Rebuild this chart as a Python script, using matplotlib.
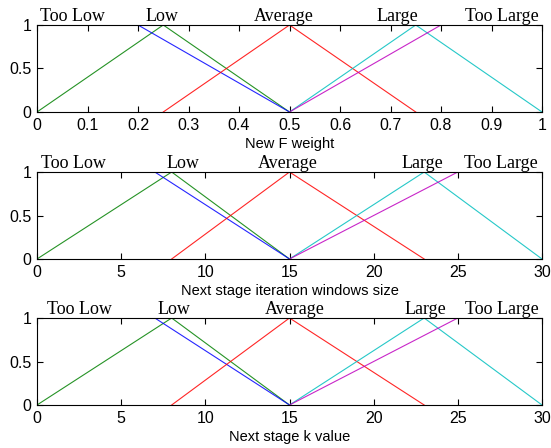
import matplotlib
matplotlib.use("Agg")
import matplotlib.pyplot as plt

# membership functions: (x points, y points) per term
labels = ["Too Low", "Low", "Average", "Large", "Too Large"]
xlabels = ["New F weight", "Next stage iteration windows size", "Next stage k value"]
xlims = [(0, 1), (0, 30), (0, 30)]
xticks = [[0, 0.1, 0.2, 0.3, 0.4, 0.5, 0.6, 0.7, 0.8, 0.9, 1],
          [0, 5, 10, 15, 20, 25, 30],
          [0, 5, 10, 15, 20, 25, 30]]

f_green = ([0, 0.25, 0.5], [0, 1, 0])
f_blue = ([0.2, 0.5], [1, 0])
f_red = ([0.25, 0.5, 0.75], [0, 1, 0])
f_cyan = ([0.5, 0.75, 1], [0, 1, 0])
f_magenta = ([0.5, 0.8], [0, 1])

w_green = ([0, 8, 15], [0, 1, 0])
w_blue = ([7, 15], [1, 0])
w_red = ([8, 15, 23], [0, 1, 0])
w_cyan = ([15, 23, 30], [0, 1, 0])
w_magenta = ([15, 25], [0, 1])

k_green = ([0, 8, 15], [0, 1, 0])
k_blue = ([7, 15], [1, 0])
k_red = ([8, 15, 23], [0, 1, 0])
k_cyan = ([15, 23, 30], [0, 1, 0])
k_magenta = ([15, 25], [0, 1])

panels = [
    [f_green, f_blue, f_red, f_cyan, f_magenta],
    [w_green, w_blue, w_red, w_cyan, w_magenta],
    [k_green, k_blue, k_red, k_cyan, k_magenta],
]
colors = ["#008000", "#0000ff", "#ff0000", "#00bfbf", "#bf00bf"]

# label centres in axes fraction, per panel
label_pos = [
    [0.07, 0.248, 0.488, 0.714, 0.92],
    [0.073, 0.29, 0.497, 0.764, 0.919],
    [0.085, 0.272, 0.51, 0.77, 0.92],
]

# axes boxes in pixels: left, top, right, bottom
W, H = 551, 448
boxes = [(37, 25, 542, 112), (37, 172, 542, 259), (37, 318, 542, 405)]

fig = plt.figure(figsize=(W / 100, H / 100), dpi=100)
fig.patch.set_facecolor("white")

for i, (l, t, r, b) in enumerate(boxes):
    ax = fig.add_axes([l / W, 1 - b / H, (r - l) / W, (b - t) / H])
    for (xs, ys), c in zip(panels[i], colors):
        ax.plot(xs, ys, color=c, lw=0.8, alpha=0.85)
    ax.set_xlim(*xlims[i])
    ax.set_ylim(0, 1)
    ax.set_xticks(xticks[i])
    ax.set_xticklabels([f"{v:g}" for v in xticks[i]])
    ax.set_yticks([0, 0.5, 1])
    ax.set_yticklabels(["0", "0.5", "1"])
    ax.tick_params(direction="in", top=True, right=True, length=4, width=0.8,
                   labelsize=11.5, pad=4)
    for lab in ax.get_xticklabels() + ax.get_yticklabels():
        lab.set_fontfamily("Liberation Sans")
    for s in ax.spines.values():
        s.set_linewidth(0.8)
    ax.set_xlabel(xlabels[i], fontsize=10.5, family="Liberation Sans", labelpad=3)
    for txt, xp in zip(labels, label_pos[i]):
        ax.text(xp, 1.0, txt, transform=ax.transAxes, ha="center", va="bottom",
                fontsize=13, family="Liberation Serif")

fig.savefig("out.png", dpi=100, facecolor="white")
